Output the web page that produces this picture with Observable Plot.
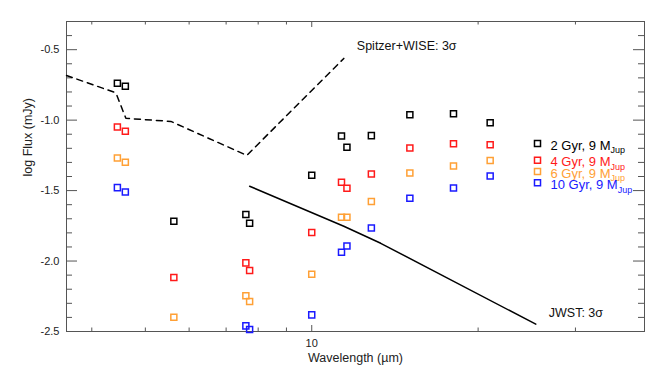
<!DOCTYPE html>
<html><head><meta charset="utf-8">
<script src="https://cdn.jsdelivr.net/npm/d3@7"></script>
<script src="https://cdn.jsdelivr.net/npm/@observablehq/plot@0.6"></script>
<style>
body{margin:0;background:#fff}
svg{font-family:"Liberation Sans",Arial,Helvetica,sans-serif}
</style>
</head><body><div id="chart"></div>
<script>
// Filter wavelengths (µm)
const wavelengths = [4.45, 4.6, 5.63, 7.6, 7.72, 10.0, 11.32, 11.58, 12.82, 15.05, 18.05, 21.03];
// log flux (mJy) per model
const flux2Gyr  = [-0.739, -0.760, -1.718, -1.670, -1.732, -1.391, -1.113, -1.193, -1.110, -0.961, -0.954, -1.018];
const flux4Gyr  = [-1.049, -1.079, -2.117, -2.013, -2.067, -1.798, -1.441, -1.484, -1.382, -1.198, -1.167, -1.174];
const flux6Gyr  = [-1.269, -1.299, -2.399, -2.247, -2.287, -2.094, -1.689, -1.689, -1.578, -1.375, -1.326, -1.287];
const flux10Gyr = [-1.479, -1.510, null,   -2.460, -2.486, -2.382, -1.938, -1.893, -1.765, -1.555, -1.482, -1.396];
const seriesNames = ["2 Gyr, 9 M", "4 Gyr, 9 M", "6 Gyr, 9 M", "10 Gyr, 9 M"];
const seriesSub = "Jup";
const seriesColors = ["#000000", "#ff1a1a", "#ffa035", "#1a1aff"];

// Sensitivity curves
const spitzerWl   = [3.6, 4.40, 4.44, 4.61, 5.56, 7.63, 11.43];
const spitzerFlux = [-0.683, -0.803, -0.824, -0.987, -1.009, -1.25, -0.562];
const jwstWl   = [7.72, 11.43, 13.33, 25.43];
const jwstFlux = [-1.469, -1.753, -1.874, -2.448];
const spitzerLabel = "Spitzer+WISE: 3σ";
const jwstLabel = "JWST: 3σ";

// Axes
const xDomain = [3.6, 40];
const yDomain = [-2.5, -0.3];
const xMajorTicks = [10];
const xMinorTicks = [4, 5, 6, 7, 8, 9, 20, 30];
const yMajorTicks = [-2.5, -2.0, -1.5, -1.0, -0.5];
const yMinorTicks = d3.range(-24, -2).map(v => v / 10).filter(v => !yMajorTicks.some(m => Math.abs(m - v) < 1e-9));
const xLabel = "Wavelength (µm)";
const yLabel = "log Flux (mJy)";

const allFlux = [flux2Gyr, flux4Gyr, flux6Gyr, flux10Gyr];
const points = [];
allFlux.forEach((arr, i) => arr.forEach((f, j) => { if (f != null) points.push({w: wavelengths[j], f, s: seriesNames[i]}); }));
const spitzer = spitzerWl.map((w, i) => ({w, f: spitzerFlux[i]}));
const jwst = jwstWl.map((w, i) => ({w, f: jwstFlux[i]}));

const W = 664, H = 374, mL = 66, mR = 20, mT = 21, mB = 43;
const iW = W - mL - mR, iH = H - mT - mB;
const axisColor = "#555";

const legendDy = [122, 138.7, 150, 161.3];
const legendMarks = [];
seriesNames.forEach((name, i) => {
  legendMarks.push(Plot.dot([name], {frameAnchor: "top-left", dx: 471, dy: legendDy[i], symbol: "square", r: 3.4, stroke: seriesColors[i], strokeWidth: 1.5}));
  legendMarks.push(Plot.text([name], {frameAnchor: "top-left", dx: 484, dy: legendDy[i] - 3, text: d => d, textAnchor: "start", fill: seriesColors[i], fontSize: 13}));
});

const chart = Plot.plot({
  width: W, height: H,
  marginLeft: mL, marginRight: mR, marginTop: mT, marginBottom: mB,
  style: {fontFamily: '"Liberation Sans",Arial,Helvetica,sans-serif', background: "#fff", overflow: "visible"},
  x: {type: "log", domain: xDomain, axis: null},
  y: {domain: yDomain, axis: null},
  color: {domain: seriesNames, range: seriesColors},
  marks: [
    Plot.frame({stroke: axisColor, strokeWidth: 1}),
    // bottom/top ticks
    Plot.tickX(xMinorTicks, {x: d => d, insetTop: iH - 3.5, stroke: axisColor}),
    Plot.tickX(xMinorTicks, {x: d => d, insetBottom: iH - 3.5, stroke: axisColor}),
    Plot.tickX(xMajorTicks, {x: d => d, insetTop: iH - 6, stroke: axisColor}),
    Plot.tickX(xMajorTicks, {x: d => d, insetBottom: iH - 6, stroke: axisColor}),
    // left/right ticks
    Plot.tickY(yMinorTicks, {y: d => d, insetRight: iW - 6, stroke: axisColor}),
    Plot.tickY(yMinorTicks, {y: d => d, insetLeft: iW - 6, stroke: axisColor}),
    Plot.tickY(yMajorTicks, {y: d => d, insetRight: iW - 11, stroke: axisColor}),
    Plot.tickY(yMajorTicks, {y: d => d, insetLeft: iW - 11, stroke: axisColor}),
    Plot.axisY(yMajorTicks, {anchor: "left", tickSize: 0, tickPadding: 7, tickFormat: d => d.toFixed(1), fontSize: 11, fill: "#222", label: null}),
    Plot.axisX(xMajorTicks, {anchor: "bottom", tickSize: 0, tickPadding: 8, tickFormat: d => String(d), fontSize: 11, fill: "#222", label: null}),
    Plot.text([xLabel], {frameAnchor: "bottom", dy: 30, text: d => d, fontSize: 12.5, fill: "#222"}),
    Plot.text([yLabel], {frameAnchor: "left", dx: -39, rotate: -90, text: d => d, fontSize: 12.5, fill: "#222"}),
    // curves
    Plot.line(spitzer, {x: "w", y: "f", stroke: "#000", strokeWidth: 1.5, strokeDasharray: "6,5"}),
    Plot.line(jwst, {x: "w", y: "f", stroke: "#000", strokeWidth: 1.5}),
    Plot.text([spitzer[spitzer.length - 1]], {x: "w", y: "f", text: () => spitzerLabel, dx: 13, dy: -12, textAnchor: "start", fontSize: 12.5, fill: "#111"}),
    Plot.text([jwst[jwst.length - 1]], {x: "w", y: "f", text: () => jwstLabel, dx: 13, dy: -11, textAnchor: "start", fontSize: 12.5, fill: "#111"}),
    // model points
    Plot.dot(points, {x: "w", y: "f", stroke: "s", symbol: "square", r: 3.4, strokeWidth: 1.5}),
    ...legendMarks
  ]
});
document.getElementById("chart").appendChild(chart);
d3.select(chart).selectAll("text")
  .filter(function() { return seriesNames.includes(this.textContent); })
  .append("tspan").attr("dy", 3.5).attr("font-size", 9).text(seriesSub);
</script>
</body></html>
